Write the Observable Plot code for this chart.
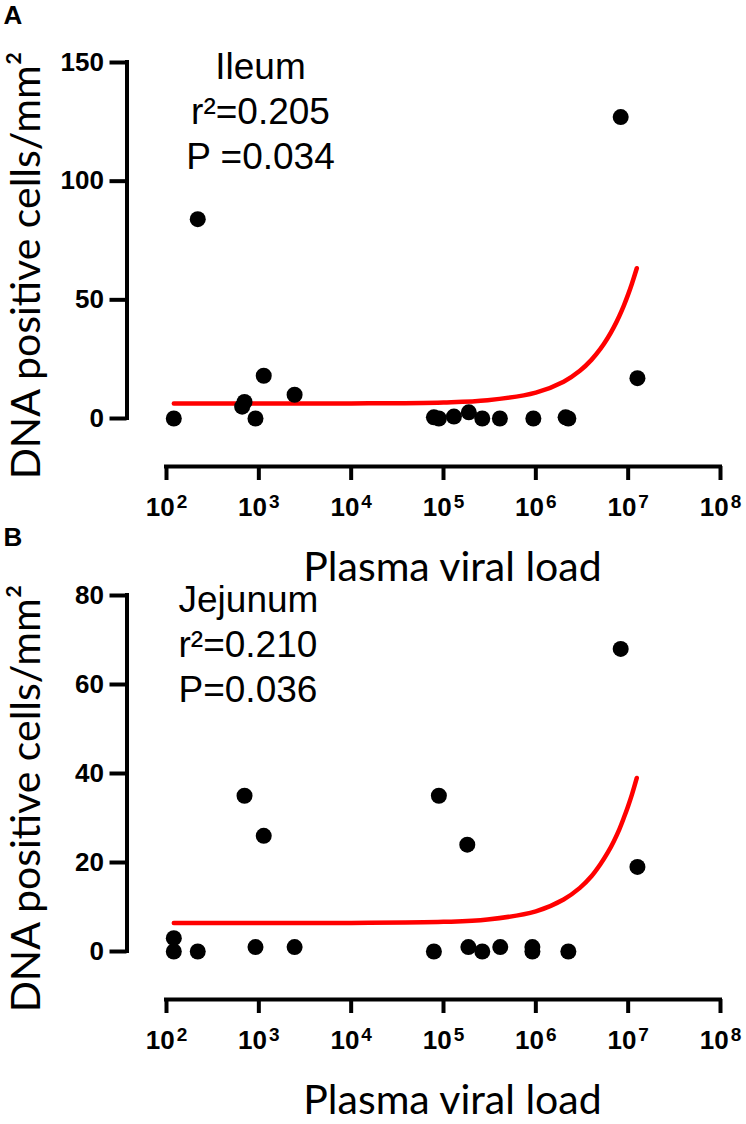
<!DOCTYPE html>
<html><head><meta charset="utf-8">
<script src="https://cdn.jsdelivr.net/npm/d3@7"></script>
<script src="https://cdn.jsdelivr.net/npm/@observablehq/plot@0.6"></script>
<style>
body{margin:0;background:#fff;}
#wrap{position:relative;width:746px;height:1124px;overflow:hidden;background:#fff}
#wrap > div{position:absolute;left:0}
</style></head><body><div id="wrap"><div id="pa" style="top:0"></div><div id="pb" style="top:520px"></div></div>
<script>
// shared x ticks (plasma viral load, log scale)
const xTicks = [1e2, 1e3, 1e4, 1e5, 1e6, 1e7, 1e8];

// Panel A: Ileum
const ileumLoad  = [120, 218, 660, 700, 920, 1130, 2440, 78700, 89100, 129700, 188000, 263000, 408000, 940000, 2100000, 2250000, 8300000, 12600000];
const ileumCells = [0, 84, 5, 7, 0, 18, 10, 0.5, 0, 0.8, 2.6, 0, 0, 0, 0.5, 0, 127, 17];
const ileumFitLoad  = [120, 1e3, 1e4, 1e5, 3e5, 1e6, 2e6, 3e6, 4e6, 5e6, 6e6, 7e6, 8e6, 9e6, 1e7, 1.1e7, 1.24e7];
const ileumFitCells = [6.3, 6.3, 6.35, 6.76, 7.68, 10.9, 15.5, 20.1, 24.7, 29.3, 33.9, 38.5, 43.1, 47.7, 52.3, 56.9, 63.3];
const ileumYTicks = [0, 50, 100, 150];
const ileumNote = ["Ileum", "r²=0.205", "P =0.034"];

// Panel B: Jejunum
const jejunumLoad  = [120, 120, 218, 700, 920, 1130, 2440, 78700, 89100, 186000, 181000, 263000, 412000, 918000, 918000, 2250000, 8300000, 12600000];
const jejunumCells = [3, 0, 0, 35, 1, 26, 1, 0, 35, 1, 24, 0, 1, 1, 0, 0, 68, 19];
const jejunumFitLoad  = [120, 1e3, 1e4, 1e5, 3e5, 1e6, 2e6, 3e6, 4e6, 5e6, 6e6, 7e6, 8e6, 9e6, 1e7, 1.1e7, 1.24e7];
const jejunumFitCells = [6.4, 6.4, 6.43, 6.66, 7.19, 9.03, 11.7, 14.3, 16.9, 19.6, 22.2, 24.8, 27.4, 30.1, 32.7, 35.3, 39.0];
const jejunumYTicks = [0, 20, 40, 60, 80];
const jejunumNote = ["Jejunum", "r²=0.210", "P=0.036"];

const xTitle = "Plasma viral load";
const yTitle = "DNA positive cells/mm²";

function panel(c) {
  const pts = c.load.map((x, i) => ({x, y: c.cells[i]}));
  const fit = c.fitLoad.map((x, i) => ({x, y: c.fitCells[i]}));
  const plotH = 356;
  const svg = Plot.plot({
    width: 746, height: c.height,
    marginTop: c.marginTop, marginBottom: c.height - c.marginTop - plotH,
    marginLeft: 166, marginRight: 26,
    style: {background: "transparent", fontFamily: "'Liberation Sans', Arial, sans-serif", color: "black", overflow: "visible"},
    x: {type: "log", domain: [1e2, 1e8]},
    y: {domain: [0, c.yTicks[c.yTicks.length - 1]]},
    marks: [
      Plot.ruleX([1e2], {dx: -39.5, strokeWidth: 4, strokeLinecap: "square"}),
      Plot.ruleY([0], {dy: 48, strokeWidth: 4, strokeLinecap: "square"}),
      Plot.axisY({ticks: c.yTicks, tickSize: 17, tickPadding: 6, dx: -39.5, strokeWidth: 4, fontSize: 26, fontWeight: "bold", label: null}),
      Plot.axisX({ticks: xTicks, tickFormat: d => "10^" + Math.round(Math.log10(d)), tickSize: 14, tickPadding: 17, dy: 48, strokeWidth: 4, fontSize: 26, fontWeight: "bold", label: null}),
      Plot.line(fit, {x: "x", y: "y", stroke: "#ff0000", strokeWidth: 4.5, curve: "catmull-rom"}),
      Plot.dot(pts, {x: "x", y: "y", r: 8, fill: "black", strokeWidth: 0}),
      Plot.text([c.note.join("\n")], {text: d => d, frameAnchor: "top-left", textAnchor: c.noteAnchor, lineAnchor: "bottom", lineHeight: 1.216, dx: c.noteDx, dy: 106, fontSize: 37}),
      Plot.text([xTitle], {text: d => d, frameAnchor: "bottom", lineAnchor: "bottom", textAnchor: "middle", dx: 9, dy: 162, fontSize: 41, fontFamily: "Lato"}),
      Plot.text([yTitle], {text: d => d, frameAnchor: "left", rotate: -90, textAnchor: "middle", lineAnchor: "bottom", dx: -127, dy: 25, fontSize: 41, fontFamily: "Lato"}),
      Plot.text([c.letter], {text: d => d, frameAnchor: "top-left", textAnchor: "start", lineAnchor: "bottom", dx: -163, dy: c.letterDy, fontSize: 26, fontWeight: "bold"})
    ]
  });
  // superscript exponents on the x tick labels
  const ns = "http://www.w3.org/2000/svg";
  svg.querySelectorAll("text").forEach(t => {
    const s = t.textContent;
    if (s.startsWith("10^")) {
      const [b, e] = s.split("^");
      t.textContent = "";
      const t1 = document.createElementNS(ns, "tspan"); t1.textContent = b;
      const t2 = document.createElementNS(ns, "tspan"); t2.textContent = e;
      t2.setAttribute("font-size", "19"); t2.setAttribute("dy", "-8"); t2.setAttribute("dx", "2");
      t.appendChild(t1); t.appendChild(t2);
    }
  });
  return svg;
}

document.getElementById("pa").appendChild(panel({
  load: ileumLoad, cells: ileumCells, fitLoad: ileumFitLoad, fitCells: ileumFitCells,
  yTicks: ileumYTicks, note: ileumNote, noteAnchor: "middle", noteDx: 94,
  letter: "A", letterDy: -39, height: 600, marginTop: 62
}));
document.getElementById("pb").appendChild(panel({
  load: jejunumLoad, cells: jejunumCells, fitLoad: jejunumFitLoad, fitCells: jejunumFitCells,
  yTicks: jejunumYTicks, note: jejunumNote, noteAnchor: "start", noteDx: 12,
  letter: "B", letterDy: -50, height: 604, marginTop: 75
}));
</script></body></html>
